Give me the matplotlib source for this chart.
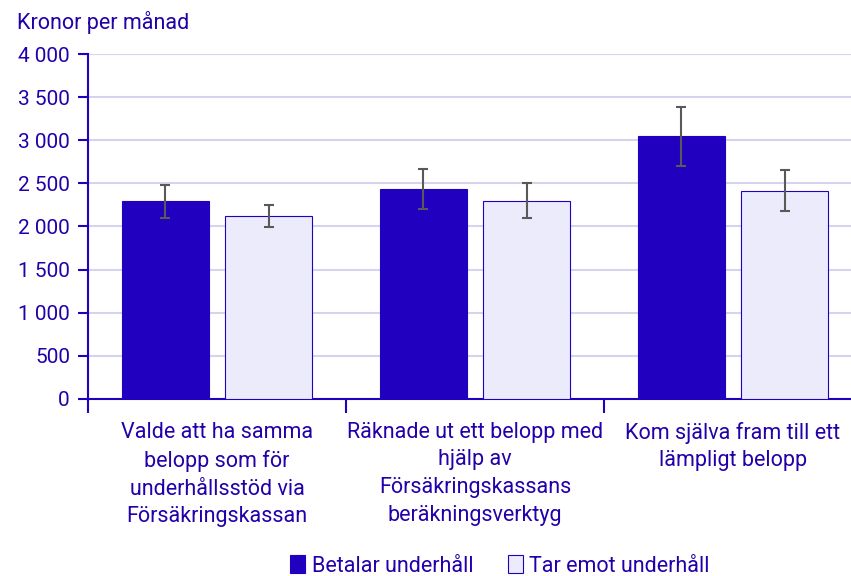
import matplotlib.pyplot as plt
import numpy as np
from matplotlib.ticker import FuncFormatter

plt.rcParams['font.family'] = ['Roboto', 'DejaVu Sans']

categories = ["Valde att ha samma\nbelopp som för\nunderhållsstöd via\nFörsäkringskassan",
              "Räknade ut ett belopp med\nhjälp av\nFörsäkringskassans\nberäkningsverktyg",
              "Kom själva fram till ett\nlämpligt belopp"]
betalar = [2290, 2435, 3045]
betalar_err = [190, 234, 340]
tar_emot = [2125, 2300, 2415]
tar_emot_err = [130, 200, 238]

text_col = '#2200aa'
dark = '#2200c0'
light = '#ebebfb'

fig = plt.figure(figsize=(8.51, 5.76), dpi=100)
ax = fig.add_axes([88/851, 1-399/576, (862-88)/851, (399-54)/576])

x = np.arange(len(categories))
w = 0.34
ax.bar(x - 0.2, betalar, w, color=dark, edgecolor=dark, linewidth=0.8, zorder=3,
       label='Betalar underhåll')
ax.bar(x + 0.2, tar_emot, w, color=light, edgecolor=dark, linewidth=0.8, zorder=3,
       label='Tar emot underhåll')
ax.errorbar(x - 0.2, betalar, yerr=betalar_err, fmt='none', ecolor='#595959',
            elinewidth=1.5, capsize=3.5, capthick=1.5, zorder=4)
ax.errorbar(x + 0.2, tar_emot, yerr=tar_emot_err, fmt='none', ecolor='#595959',
            elinewidth=1.5, capsize=3.5, capthick=1.5, zorder=4)

ax.set_xlim(-0.5, 2.5)
ax.set_ylim(0, 4000)
ax.set_yticks(range(0, 4001, 500))
ax.yaxis.set_major_formatter(FuncFormatter(lambda v, p: f"{int(v):,}".replace(",", " ")))
ax.grid(axis='y', color='#d4d4ee', linewidth=1.5, zorder=0)

ax.set_xticks([-0.5, 0.5, 1.5, 2.5])
ax.set_xticklabels([])
ax.tick_params(axis='x', length=10, width=1.5, color=dark)
ax.tick_params(axis='y', length=7, width=1.5, color=dark, labelcolor=text_col,
               labelsize=15, pad=6)
for s in ['top', 'right']:
    ax.spines[s].set_visible(False)
for s in ['left', 'bottom']:
    ax.spines[s].set_color(dark)
    ax.spines[s].set_linewidth(1.5)

for i, c in enumerate(categories):
    ax.text(i, -0.066, c, transform=ax.get_xaxis_transform(), ha='center', va='top',
            fontsize=15.5, color=text_col, linespacing=1.42)

fig.text(17/851, 1-22/576, 'Kronor per månad', fontsize=15.5, color=text_col,
         va='center', ha='left')

leg = fig.legend(loc='center', bbox_to_anchor=(500/851, 1-566/576), ncol=2,
                 frameon=False, fontsize=15.5, handlelength=0.7, handleheight=0.9,
                 handletextpad=0.3, columnspacing=1.6, labelcolor=text_col)

fig.savefig('out.png', dpi=100)
